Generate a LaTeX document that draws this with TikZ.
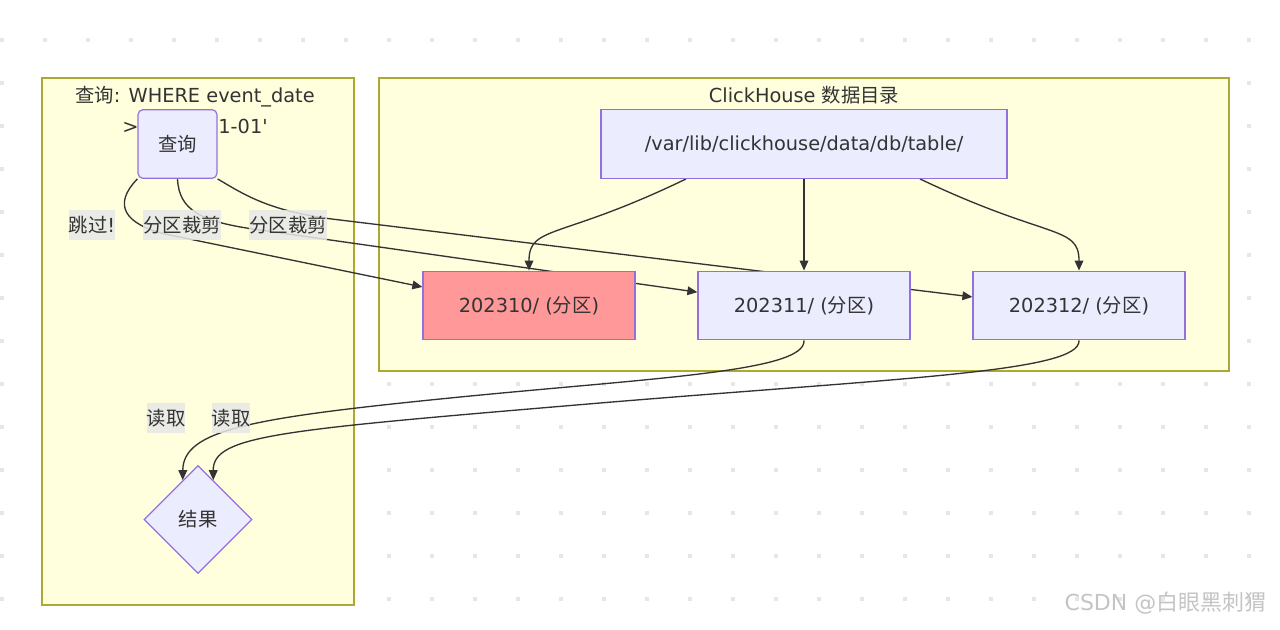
\documentclass[tikz,border=0pt]{standalone}
\usepackage{fontspec}
\setmainfont{DejaVu Sans}
\newfontfamily\cjk{Noto Sans CJK SC}
\usepackage{xcolor}
\usetikzlibrary{calc, positioning, shapes.geometric, arrows.meta}
\definecolor{ink}{HTML}{333333}
\definecolor{nodefill}{HTML}{ECECFF}
\definecolor{nodeline}{HTML}{9370DB}
\definecolor{skipfill}{HTML}{FF9999}
\definecolor{clusterfill}{HTML}{FFFFDE}
\definecolor{clusterline}{HTML}{AAAA33}
\definecolor{lblbg}{HTML}{E8E8E8}
\definecolor{dotgray}{HTML}{E6E6E6}
\definecolor{markgray}{HTML}{C4C4C4}
\pgfdeclarelayer{grid}
\pgfdeclarelayer{edges}
\pgfsetlayers{grid,edges,main}

\begin{document}
\begin{tikzpicture}[x=0.75pt, y=-0.75pt, text=ink,
    font=\fontsize{14.5pt}{17pt}\selectfont,
    flownode/.style={draw=nodeline, fill=nodefill, line width=0.9pt, inner sep=0pt, minimum height=51.5pt},
    part/.style={flownode, minimum width=159pt},
    lbl/.style={fill=lblbg, fill opacity=0.85, text opacity=1, inner sep=0pt, minimum height=22.5pt},
    flow/.style={draw=ink, line width=1pt, -{Triangle[length=7.5pt,width=6.5pt]}},
    cluster/.style={draw=clusterline, fill=clusterfill, line width=0.9pt}]
  \useasboundingbox (0,0) rectangle (1280,629);

  \begin{pgfonlayer}{grid}
    \foreach \i in {0,...,29}
      \foreach \j in {0,...,13}
        \fill[dotgray] ({43*\i},{38+43*\j}) rectangle +(4,4);
    \draw[cluster] (42,78) rectangle (354,605);
    \draw[cluster] (379,78) rectangle (1229,371);
  \end{pgfonlayer}

  % cluster titles
  \node[align=center, font=\fontsize{14.5pt}{23.25pt}\selectfont] (qtitle) at (195,110.5)
    {{\cjk 查询}: WHERE event\_date\\> \textquotesingle 2023-11-01\textquotesingle};
  \node (ctitle) at (804,95) {ClickHouse {\cjk 数据目录}};

  % nodes
  \node[flownode, rounded corners=3.75pt, minimum width=59.25pt] (query) at (177.5,144) {{\cjk 查询}};
  \node[flownode, minimum width=304.5pt] (dir) at (804,144) {/var/lib/clickhouse/data/db/table/};
  \node[part, fill=skipfill] (p10) at (529,305.5) {202310/ ({\cjk 分区})};
  \node[part] (p11) at (804,305.5) {202311/ ({\cjk 分区})};
  \node[part] (p12) at (1079,305.5) {202312/ ({\cjk 分区})};
  \node[flownode, diamond, aspect=1, minimum width=81pt, minimum height=81pt] (result) at (198,519.5) {{\cjk 结果}};

  \begin{pgfonlayer}{edges}
    \draw[flow] (query.south west) .. controls (112,205) and (125,224) .. (165,234) -- ([yshift=13.9pt]p10.west);
    \draw[flow] (query.south) .. controls (179,210) and (200,222) .. (260,230) -- ([yshift=10pt]p11.west);
    \draw[flow] (query.south east) .. controls (245,195) and (270,212) .. (340,220) -- ([yshift=6.4pt]p12.west);
    \draw[flow] ([xshift=-88.5pt]dir.south) .. controls (560,240) and (529,225) .. (p10.north);
    \draw[flow] (dir.south) -- (p11.north);
    \draw[flow] ([xshift=87pt]dir.south) .. controls (1048,240) and (1079,225) .. (p12.north);
    \draw[flow] (p11.south) .. controls (806,372) and (650,378) .. (450,398)
      .. controls (250,418) and (183,430) .. ($(result.north)!0.28!(result.west)$);
    \draw[flow] (p12.south) .. controls (1081,372) and (900,378) .. (600,403)
      .. controls (280,430) and (213,435) .. ($(result.north)!0.28!(result.east)$);
  \end{pgfonlayer}

  % edge labels
  \node[lbl] (skip) at (92,225) {{\cjk 跳过}!};
  \node[lbl] (prune1) at (182,225) {{\cjk 分区裁剪}};
  \node[lbl] (prune2) at (288,225) {{\cjk 分区裁剪}};
  \node[lbl] (read1) at (166,418) {{\cjk 读取}};
  \node[lbl] (read2) at (231,418) {{\cjk 读取}};

  \node[text=markgray, font=\fontsize{16.5pt}{19pt}\selectfont] (mark) at (1165.5,603) {CSDN @{\cjk 白眼黑刺猬}};
\end{tikzpicture}
\end{document}
